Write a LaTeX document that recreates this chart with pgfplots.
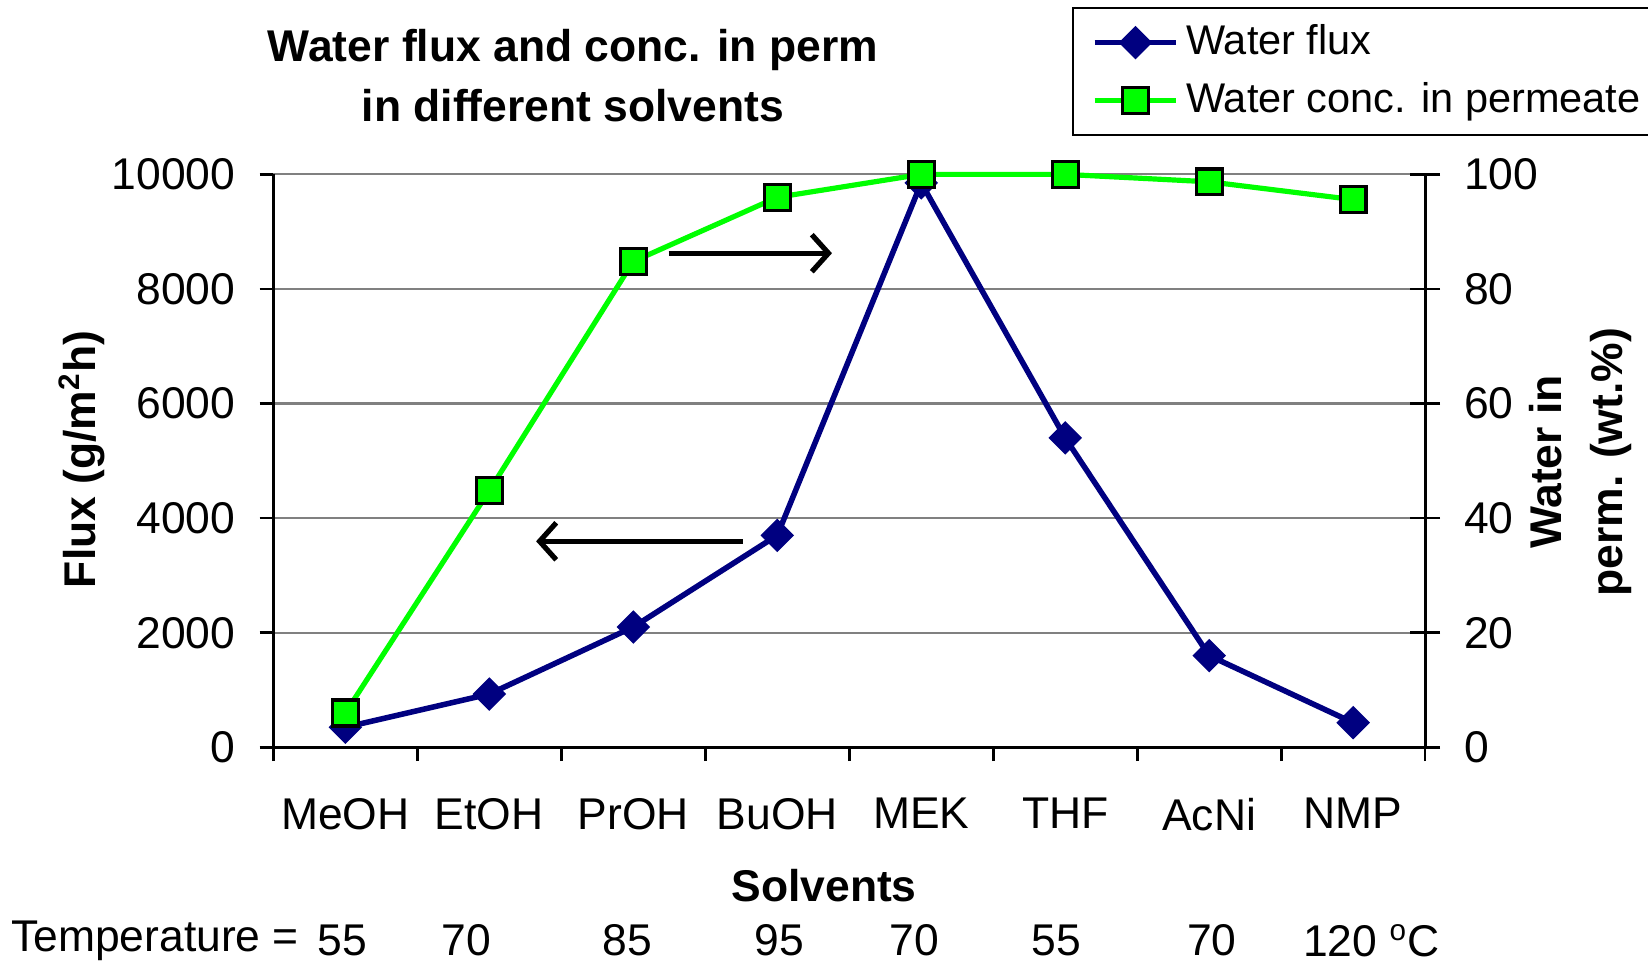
\documentclass[border=0pt]{standalone}
\usepackage{fontspec}
\setmainfont{Liberation Sans}
\usepackage{pgfplots}
\pgfplotsset{compat=1.18}
\usetikzlibrary{arrows.meta}
\definecolor{navy}{RGB}{0,0,128}
\definecolor{lgreen}{RGB}{0,255,0}
\definecolor{gridgray}{RGB}{128,128,128}
\begin{document}
\begin{tikzpicture}[x=1pt,y=1pt]
\useasboundingbox (0,0) rectangle (444.96,260.28);
\begin{axis}[
  at={(73.8pt,58.5pt)}, anchor=south west,
  scale only axis, width=311pt, height=154.7pt,
  xmin=-0.5, xmax=7.5, ymin=0, ymax=10000,
  axis x line*=bottom, axis y line*=left,
  axis line style={black, line width=0.8pt, -},
  xtick={0,...,7},
  xticklabels={MeOH,EtOH,PrOH,BuOH,MEK,THF,AcNi,NMP},
  minor xtick={-0.5,0.5,...,7.5},
  major x tick style={draw=none},
  minor x tick style={black, line width=0.7pt},
  y tick style={black, line width=0.7pt},
  tick align=outside,
  major tick length=3.7pt, minor tick length=3.7pt,
  ytick={0,2000,...,10000},
  scaled y ticks=false,
  /pgf/number format/.cd, fixed, 1000 sep={}, assume math mode=true, /pgfplots/.cd,
  ymajorgrids, major grid style={gridgray, line width=0.6pt},
  tick label style={font=\fontsize{12}{14}\selectfont},
  xticklabel style={yshift=-6.5pt},
  yticklabel style={xshift=-3pt},
  clip=false,
]
\addplot[navy, line width=1.5pt, mark=square*, mark size=3pt,
  mark options={rotate=45, fill=navy, draw=navy, line width=0.4pt}]
  coordinates {(0,350) (1,930) (2,2100) (3,3700) (4,9850) (5,5400) (6,1600) (7,430)};
\draw[black, line width=1.4pt, -{Straight Barb[length=4.5pt,width=10pt]}]
  (axis cs:2.245,8624) -- (axis cs:3.38,8624);
\draw[black, line width=1.4pt, -{Straight Barb[length=4.5pt,width=10pt]}]
  (axis cs:2.76,3596) -- (axis cs:1.325,3596);
\end{axis}
\begin{axis}[
  at={(73.8pt,58.5pt)}, anchor=south west,
  scale only axis, width=311pt, height=154.7pt,
  xmin=-0.5, xmax=7.5, ymin=0, ymax=100,
  axis x line=none, axis y line*=right,
  axis line style={black, line width=0.8pt, -},
  ytick={0,20,...,100},
  y tick style={black, line width=0.7pt},
  tick align=center, major tick length=8pt,
  /pgf/number format/assume math mode=true,
  tick label style={font=\fontsize{12}{14}\selectfont},
  yticklabel style={xshift=3pt},
  clip=false,
  legend style={at={(0.6936,1.292)}, anchor=north west, draw=black, line width=0.6pt,
    font=\fontsize{11.2}{13}\selectfont, cells={anchor=west}, row sep=2pt,
    inner xsep=5pt, inner ysep=2.5pt},
  legend image code/.code={%
    \draw[#1, mark repeat=2, mark phase=2] plot coordinates {(0pt,0pt) (11pt,0pt) (22pt,0pt)};},
]
\addlegendimage{navy, line width=1.5pt, mark=square*, mark size=3pt,
  mark options={rotate=45, fill=navy, draw=navy, line width=0.4pt}}
\addlegendentry{Water flux}
\addplot[lgreen, line width=1.4pt, mark=square*, mark size=3.5pt,
  mark options={fill=lgreen, draw=black, line width=0.9pt}]
  coordinates {(0,6) (1,44.8) (2,84.8) (3,96) (4,100) (5,100) (6,98.7) (7,95.6)};
\addlegendentry{Water conc. in permeate}
\end{axis}
\node[font=\bfseries\fontsize{12}{14}\selectfont] at (154.7,246.7) {Water flux and conc. in perm};
\node[font=\bfseries\fontsize{12}{14}\selectfont] at (154.7,231.7) {in different solvents};
\node[font=\bfseries\fontsize{12}{14}\selectfont, rotate=90] at (22.1,136.3) {Flux (g/m\textsuperscript{2}h)};
\node[font=\bfseries\fontsize{12}{16.5}\selectfont, rotate=90, align=center] at (426.8,135.5) {Water in\\perm. (wt.\%)};
\node[font=\bfseries\fontsize{12}{14}\selectfont] at (222.5,21.1) {Solvents};
\node[font=\fontsize{12}{14}\selectfont, anchor=west, inner sep=0pt] at (2.8,6.3) {Temperature =};
\foreach \xx/\tt in {92.5/55, 126/70, 169.4/85, 210.5/95, 246.9/70, 285.2/55, 327.2/70}
  \node[font=\fontsize{12}{14}\selectfont] at (\xx,6.3) {\tt};
\node[font=\fontsize{12}{14}\selectfont] at (370.3,6.3) {120 \textsuperscript{o}C};
\end{tikzpicture}
\end{document}
